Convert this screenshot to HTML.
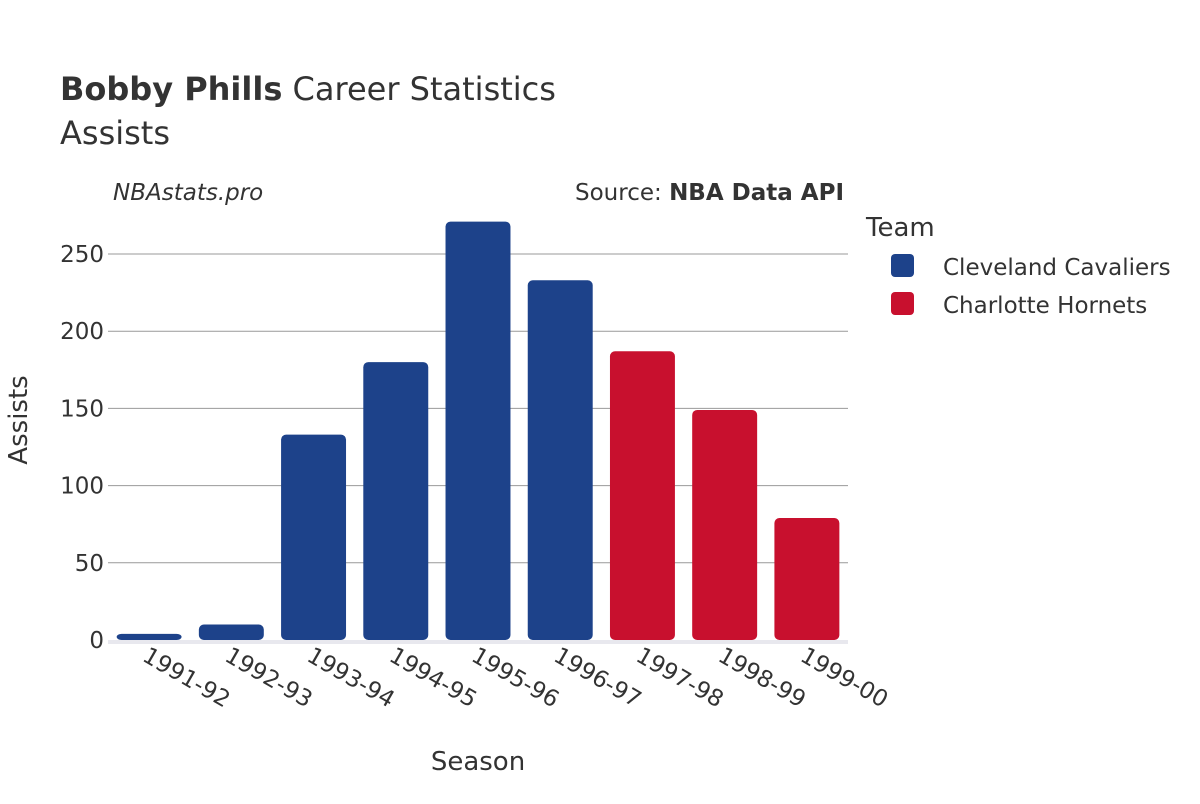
<!DOCTYPE html>
<html><head><meta charset="utf-8"><style>
body{margin:0;background:#fff;font-family:"DejaVu Sans","Liberation Sans",sans-serif;}
svg text{font-family:"DejaVu Sans","Liberation Sans",sans-serif;}
</style></head><body>
<svg id="chart" width="1200" height="800" xmlns="http://www.w3.org/2000/svg">
<rect width="1200" height="800" fill="#fff"/>
<text x="60" y="100" font-size="32" fill="#333"><tspan font-weight="bold">Bobby Phills</tspan> Career Statistics</text>
<text x="60" y="144" font-size="32" fill="#333">Assists</text>
<text x="113" y="200" font-size="23" font-style="italic" fill="#333">NBAstats.pro</text>
<text x="844" y="200" font-size="23" text-anchor="end" fill="#333">Source: <tspan font-weight="bold">NBA Data API</tspan></text>
<g id="grid"></g>
<g id="bars"></g>
<g id="xlabels"></g>
<text x="478" y="770" font-size="26" text-anchor="middle" fill="#333">Season</text>
<text transform="translate(27,420) rotate(-90)" font-size="26" text-anchor="middle" fill="#333">Assists</text>
<g>
<text x="866" y="236" font-size="26" fill="#333">Team</text>
<g><rect x="891" y="254" width="23" height="23" rx="4" fill="#1d428a"/><text x="943" y="275" font-size="23" fill="#333">Cleveland Cavaliers</text></g>
<g><rect x="891" y="292" width="23" height="23" rx="4" fill="#c8102e"/><text x="943" y="313" font-size="23" fill="#333">Charlotte Hornets</text></g>
</g>
</svg>
<script>
const seasons=["1991-92","1992-93","1993-94","1994-95","1995-96","1996-97","1997-98","1998-99","1999-00"];
const assists=[4,10,133,180,271,233,187,149,79];
const teams=["CLE","CLE","CLE","CLE","CLE","CLE","CHA","CHA","CHA"];
const yTicks=[0,50,100,150,200,250];
const colors={CLE:"#1d428a",CHA:"#c8102e"};
const ns="http://www.w3.org/2000/svg";
const x0=108,x1=848,y0=640,yTop=254,yMax=250;
const band=(x1-x0)/seasons.length;
const y=v=>y0-(v/yMax)*(y0-yTop);
const xc=i=>x0+band*(i+0.5);
function mk(t,a,p){const e=document.createElementNS(ns,t);for(const k in a)e.setAttribute(k,a[k]);p.appendChild(e);return e;}
const g=document.getElementById('grid');
mk('rect',{x:x0,y:y0,width:x1-x0,height:4,fill:'#e8e8ee'},g);
yTicks.forEach(v=>{
  if(v>0){const l=mk('line',{x1:x0,x2:x1,y1:y(v),y2:y(v),stroke:'#999','stroke-width':1},g);
  
  }
  const t=mk('text',{x:x0-4,y:y(v)+8,'font-size':23,'text-anchor':'end',fill:'#333'},g);
  t.textContent=v;
  
  
});
const b=document.getElementById('bars'),xl=document.getElementById('xlabels');
const bw=band*0.79;
seasons.forEach((s,i)=>{
  const r=mk('rect',{x:xc(i)-bw/2,y:y(assists[i]),width:bw,height:y0-y(assists[i]),rx:5,fill:colors[teams[i]]},b);
  
  
  const t=mk('text',{transform:`translate(${xc(i)-8},${y0+20}) rotate(30)`,'font-size':23,fill:'#333'},xl);
  t.textContent=s;
  
  
});
</script>
</body></html>
